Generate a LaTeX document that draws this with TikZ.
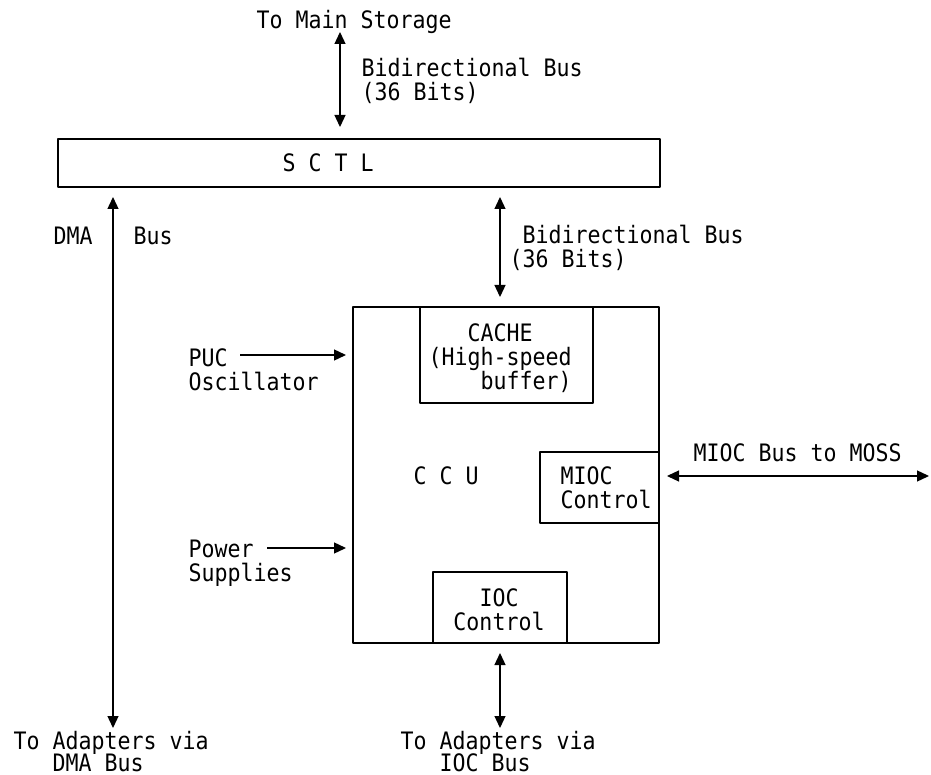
\documentclass[tikz,border=0pt]{standalone}
\usepackage{fontspec}
\newfontfamily\ibmmono[FakeStretch=0.9]{DejaVu Sans Mono}
\usetikzlibrary{arrows.meta}

\begin{document}
\begin{tikzpicture}[x=1pt,y=-1pt,line width=1.3pt,line join=round,
  >={Triangle[length=12pt,width=11pt]},
  unit/.style={draw,rectangle,inner sep=0pt,outer sep=0pt},
  txt/.style={inner sep=0pt,anchor=base west,align=left,
    font={\ibmmono\fontsize{24}{24}\selectfont\lineskiplimit=-\maxdimen}},
  tighttxt/.style={txt,
    font={\ibmmono\fontsize{24}{22}\selectfont\lineskiplimit=-\maxdimen}},
  bus/.style={<->},
  feed/.style={->}]
  \useasboundingbox (0,0) rectangle (931,775);
  % units
  \node[unit,minimum width=602pt,minimum height=48pt] (sctl) at (359,163) {};
  \node[unit,minimum width=306pt,minimum height=336pt] (ccu) at (506,475) {};
  \node[unit,minimum width=173pt,minimum height=96pt] (cache) at (506.5,355) {};
  \node[unit,minimum width=119pt,minimum height=71pt] (mioc) at (599.5,487.5) {};
  \node[unit,minimum width=134pt,minimum height=71pt] (ioc) at (500,607.5) {};
  % texts (base = last line)
  \node[txt] (storage) at (256,29) {To Main Storage};
  \node[txt] (bidi1) at (361,101) {Bidirectional Bus\\(36 Bits)};
  \node[txt] (sctltxt) at (282,172) {S C T L};
  \node[txt] (dmatxt) at (53,245) {DMA};
  \node[txt] (bustxt) at (133,245) {Bus};
  \node[txt] (bidi2) at (509,268) {\ Bidirectional Bus\\(36 Bits)};
  \node[txt] (cachetxt) at (428,389) {\ \ \ CACHE\\(High-speed\\\ \ \ \ buffer)};
  \node[txt] (puctxt) at (188,390) {PUC\\Oscillator};
  \node[txt] (ccutxt) at (413,484) {C C U};
  \node[txt] (miocTxt) at (560,508) {MIOC\\Control};
  \node[txt] (mosstxt) at (693,461) {MIOC Bus to MOSS};
  \node[txt] (pwrtxt) at (188,581) {Power\\Supplies};
  \node[txt,anchor=base,align=center] (ioctxt) at (499,630) {IOC\\Control};
  \node[tighttxt] (dmaadp) at (13,771) {To Adapters via\\\ \ \ DMA Bus};
  \node[tighttxt] (iocadp) at (400,771) {To Adapters via\\\ \ \ IOC Bus};
  % free ends
  \coordinate (ms) at (340,32);
  \coordinate (dma) at (113,728);
  \coordinate (iob) at (500,728);
  \coordinate (moss) at (929,476);
  \coordinate (puc) at (240,355);
  \coordinate (pwr) at (267,548);
  % buses
  \draw[bus,shorten >=12pt] (ms) -- (ms |- sctl.north);
  \draw[bus,shorten <=10pt] (dma |- sctl.south) -- (dma);
  \draw[bus,shorten <=10pt,shorten >=10pt] (sctl.south -| iob) -- (ccu.north -| iob);
  \draw[bus,shorten <=10pt] (ccu.south -| iob) -- (iob);
  \draw[bus,shorten <=8pt] (ccu.east |- moss) -- (moss);
  \draw[feed,shorten >=7pt] (puc) -- (puc -| ccu.west);
  \draw[feed,shorten >=7pt] (pwr) -- (pwr -| ccu.west);
\end{tikzpicture}
\end{document}
